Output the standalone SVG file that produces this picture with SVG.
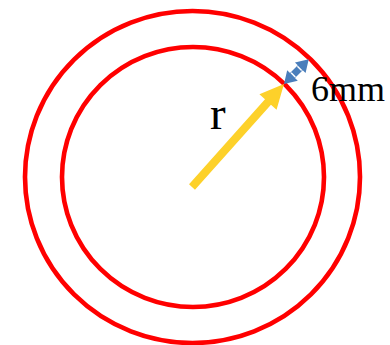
<svg xmlns="http://www.w3.org/2000/svg" width="390" height="345" viewBox="0 0 390 345">
<style>
.ring{fill:none;stroke:#FF0000;stroke-width:4.6}
.lbl{font-family:"Liberation Serif","Times New Roman",serif;fill:#000}
</style>
<rect width="390" height="345" fill="#fff"/>
<g id="outer-circle"><ellipse class="ring" cx="192.5" cy="177" rx="167.5" ry="166"/></g>
<g id="inner-circle"><ellipse class="ring" cx="193" cy="177" rx="131" ry="130"/></g>
<g id="connectors">
<g id="radius-arrow" transform="translate(192,187) rotate(-48.2)">
<polygon fill="#FDD12A" points="0,-4 114,-4 114,-11.5 138,0 114,11.5 114,4 0,4"/>
</g>
<g id="thickness-arrow" transform="translate(284,84) rotate(-45)">
<polygon fill="#4A7EBB" points="0,0 12,-7.5 12,-3.5 23,-3.5 23,-7.5 35,0 23,7.5 23,3.5 12,3.5 12,7.5"/>
<line x1="13" y1="-3" x2="13" y2="3" stroke="#fff" stroke-width="1.5"/>
<line x1="22" y1="-3" x2="22" y2="3" stroke="#fff" stroke-width="1.5"/>
</g>
</g>
<g id="label-r"><text class="lbl" x="210" y="129" font-size="47">r</text></g>
<g id="label-6mm"><text class="lbl" x="311" y="101" font-size="36">6mm</text></g>
</svg>
